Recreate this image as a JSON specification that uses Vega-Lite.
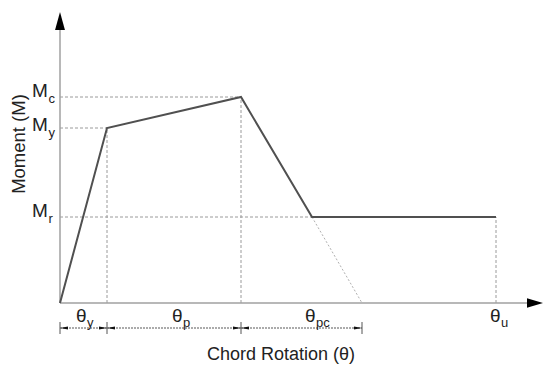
{
  "$schema": "https://vega.github.io/schema/vega-lite/v6.json",
  "width": 543,
  "height": 368,
  "padding": 0,
  "autosize": {"type": "none"},
  "config": {"view": {"stroke": null}},
  "datasets": {
    "backbone": [
      {"x": 0, "y": 0},
      {"x": 47, "y": 175},
      {"x": 181, "y": 206},
      {"x": 252, "y": 86},
      {"x": 436, "y": 86}
    ],
    "axes": [
      {"x": 0, "x2": 0, "y": 0, "y2": 285},
      {"x": 0, "x2": 470, "y": 0, "y2": 0}
    ],
    "guides": [
      {"x": 0, "x2": 181, "y": 206, "y2": 206},
      {"x": 0, "x2": 47, "y": 175, "y2": 175},
      {"x": 0, "x2": 252, "y": 86, "y2": 86},
      {"x": 47, "x2": 47, "y": 0, "y2": 175},
      {"x": 181, "x2": 181, "y": 0, "y2": 206},
      {"x": 436, "x2": 436, "y": 0, "y2": 86}
    ],
    "extension": [
      {"x": 252, "x2": 302, "y": 86, "y2": 0}
    ],
    "dims": [
      {"x": 0, "x2": 47, "y": -25, "y2": -25},
      {"x": 47, "x2": 181, "y": -25, "y2": -25},
      {"x": 181, "x2": 302, "y": -25, "y2": -25}
    ],
    "dimTicks": [
      {"x": 0, "x2": 0, "y": -19, "y2": -31},
      {"x": 47, "x2": 47, "y": -19, "y2": -31},
      {"x": 181, "x2": 181, "y": -19, "y2": -31},
      {"x": 302, "x2": 302, "y": -19, "y2": -31}
    ],
    "arrowsLeft": [
      {"x": 4, "y": -25},
      {"x": 51, "y": -25},
      {"x": 185, "y": -25}
    ],
    "arrowsRight": [
      {"x": 43, "y": -25},
      {"x": 177, "y": -25},
      {"x": 298, "y": -25}
    ],
    "axisArrowUp": [{"x": 0, "y": 282}],
    "axisArrowRight": [{"x": 475, "y": 0}],
    "mLabels": [
      {"sym": "M", "sub": "c", "x": -28, "y": 206},
      {"sym": "M", "sub": "y", "x": -28, "y": 172},
      {"sym": "M", "sub": "r", "x": -28, "y": 86}
    ],
    "thLabels": [
      {"sym": "θ", "sub": "y", "x": 16, "y": -19},
      {"sym": "θ", "sub": "p", "x": 112, "y": -19},
      {"sym": "θ", "sub": "pc", "x": 245, "y": -19},
      {"sym": "θ", "sub": "u", "x": 430, "y": -19}
    ],
    "xTitle": [{"t": "Chord Rotation (θ)", "x": 221, "y": -57}],
    "yTitle": [{"t": "Moment (M)", "x": -35, "y": 159}]
  },
  "encoding": {
    "x": {"field": "x", "type": "quantitative", "scale": {"domain": [-60, 483], "nice": false, "zero": false}, "axis": null},
    "y": {"field": "y", "type": "quantitative", "scale": {"domain": [-65, 303], "nice": false, "zero": false}, "axis": null}
  },
  "layer": [
    {
      "data": {"name": "guides"},
      "mark": {"type": "rule", "color": "#9a9a9a", "strokeWidth": 1, "strokeDash": [3, 2]},
      "encoding": {"x2": {"field": "x2"}, "y2": {"field": "y2"}}
    },
    {
      "data": {"name": "extension"},
      "mark": {"type": "rule", "color": "#b0b0b0", "strokeWidth": 1, "strokeDash": [2, 2]},
      "encoding": {"x2": {"field": "x2"}, "y2": {"field": "y2"}}
    },
    {
      "data": {"name": "axes"},
      "mark": {"type": "rule", "color": "#a0a0a0", "strokeWidth": 1.5},
      "encoding": {"x2": {"field": "x2"}, "y2": {"field": "y2"}}
    },
    {
      "data": {"name": "backbone"},
      "mark": {"type": "line", "color": "#505050", "strokeWidth": 2},
      "encoding": {}
    },
    {
      "data": {"name": "dims"},
      "mark": {"type": "rule", "color": "#909090", "strokeWidth": 1.5, "strokeDash": [2, 1]},
      "encoding": {"x2": {"field": "x2"}, "y2": {"field": "y2"}}
    },
    {
      "data": {"name": "dimTicks"},
      "mark": {"type": "rule", "color": "#555555", "strokeWidth": 1},
      "encoding": {"x2": {"field": "x2"}, "y2": {"field": "y2"}}
    },
    {
      "data": {"name": "arrowsLeft"},
      "mark": {"type": "point", "shape": "M-1,0L1,-0.35L1,0.35Z", "size": 64, "filled": true, "color": "#111111", "opacity": 1},
      "encoding": {}
    },
    {
      "data": {"name": "arrowsRight"},
      "mark": {"type": "point", "shape": "M1,0L-1,-0.35L-1,0.35Z", "size": 64, "filled": true, "color": "#111111", "opacity": 1},
      "encoding": {}
    },
    {
      "data": {"name": "axisArrowUp"},
      "mark": {"type": "point", "shape": "M0,-1L0.55,1L-0.55,1Z", "size": 324, "filled": true, "color": "#000000", "opacity": 1},
      "encoding": {}
    },
    {
      "data": {"name": "axisArrowRight"},
      "mark": {"type": "point", "shape": "M1,0L-1,-0.6L-1,0.6Z", "size": 256, "filled": true, "color": "#000000", "opacity": 1},
      "encoding": {}
    },
    {
      "data": {"name": "mLabels"},
      "mark": {"type": "text", "align": "left", "baseline": "alphabetic", "font": "Liberation Sans", "fontSize": 19, "color": "#222222"},
      "encoding": {"text": {"field": "sym"}}
    },
    {
      "data": {"name": "mLabels"},
      "mark": {"type": "text", "align": "left", "baseline": "alphabetic", "font": "Liberation Sans", "fontSize": 13, "color": "#222222", "dx": 16.5, "dy": 6},
      "encoding": {"text": {"field": "sub"}}
    },
    {
      "data": {"name": "thLabels"},
      "mark": {"type": "text", "align": "left", "baseline": "alphabetic", "font": "Liberation Sans", "fontSize": 19, "color": "#222222"},
      "encoding": {"text": {"field": "sym"}}
    },
    {
      "data": {"name": "thLabels"},
      "mark": {"type": "text", "align": "left", "baseline": "alphabetic", "font": "Liberation Sans", "fontSize": 13, "color": "#222222", "dx": 11, "dy": 5},
      "encoding": {"text": {"field": "sub"}}
    },
    {
      "data": {"name": "xTitle"},
      "mark": {"type": "text", "align": "center", "baseline": "alphabetic", "font": "Liberation Sans", "fontSize": 18, "color": "#222222"},
      "encoding": {"text": {"field": "t"}}
    },
    {
      "data": {"name": "yTitle"},
      "mark": {"type": "text", "align": "center", "baseline": "alphabetic", "angle": 270, "font": "Liberation Sans", "fontSize": 18.5, "color": "#222222"},
      "encoding": {"text": {"field": "t"}}
    }
  ]
}
